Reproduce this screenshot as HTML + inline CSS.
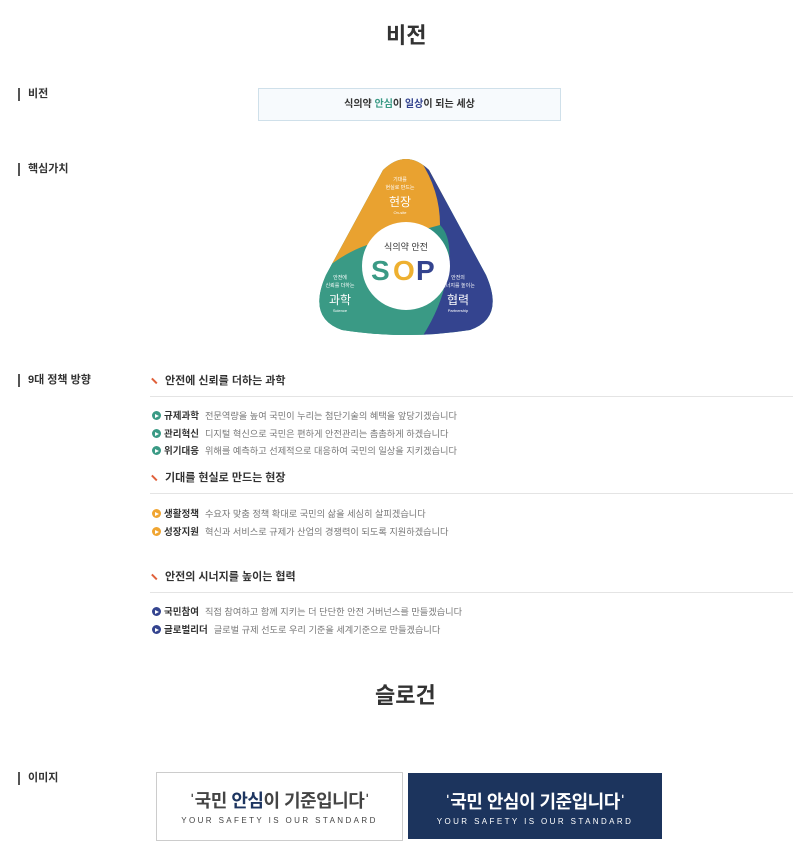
<!DOCTYPE html>
<html><head><meta charset="utf-8"><style>
body{margin:0;width:800px;height:858px;background:#fff;font-family:"Liberation Sans","Noto Sans CJK KR",sans-serif;color:#333;position:relative;overflow:hidden}
.a{position:absolute;white-space:nowrap}
.h1{font-size:22px;font-weight:bold;color:#333}
.lbl{font-size:11px;font-weight:bold;color:#333;border-left:2px solid #555;padding-left:8px;line-height:13px}
.sec{font-size:11px;font-weight:bold;color:#333}
.sec:before{content:"";display:inline-block;width:7px;height:1.5px;background:#e0603a;transform:rotate(45deg);margin-right:7px;vertical-align:middle}
.line{position:absolute;left:150px;width:643px;height:1px;background:#e4e4e4}
.it{font-size:9.2px;color:#777}
.it b{color:#333;font-size:9.5px;margin-right:6px}
.dot{display:inline-block;width:9px;height:9px;border-radius:50%;margin-right:3px;vertical-align:-1px;position:relative}
.dot:after{content:"";position:absolute;left:3px;top:2.5px;border-left:4px solid #fff;border-top:2px solid transparent;border-bottom:2px solid transparent}
.g{background:#3a9a85}.o{background:#f0a531}.n{background:#34448f}
</style></head><body>
<div class="a h1" style="left:386px;top:18px">비전</div>
<div class="a lbl" style="left:18px;top:88px">비전</div>
<div class="a" style="left:258px;top:88px;width:301px;height:31px;border:1px solid #cfe0ea;background:#f7fafd;text-align:center;line-height:31px;font-size:10px;font-weight:bold;color:#333">식의약 <span style="color:#3a9a85">안심</span>이 <span style="color:#34448f">일상</span>이 되는 세상</div>
<div class="a lbl" style="left:18px;top:163px">핵심가치</div>
<svg class="a" style="left:300px;top:150px" width="200" height="190" viewBox="300 150 200 190">
<defs><clipPath id="c"><path d="M383,170 Q406,148 429,170 L486,275 Q505,318 470,330 Q406,340 342,330 Q307,318 326,275 Z"/></clipPath></defs>
<g clip-path="url(#c)">
<rect x="300" y="150" width="200" height="190" fill="#2f8f80"/>
<path d="M300,150 L500,150 L500,160 Q440,180 440,225 Q420,230 396,240 Q350,240 300,292 Z" fill="#e9a230"/>
<path d="M500,150 L500,340 L420,340 Q440,310 446,280 Q455,240 440,225 Q440,190 420,160 Z" fill="#34448f"/>
<path d="M300,292 Q350,240 396,240 Q440,250 446,280 Q440,310 420,340 L300,340 Z" fill="#3a9a85"/>
</g>
<circle cx="406" cy="266" r="44" fill="#fff"/>
<text x="406" y="250" font-size="9" text-anchor="middle" fill="#333">식의약 안전</text>
<text x="371" y="280" font-size="28" font-weight="bold" fill="#3a9a85">S</text>
<text x="393" y="280" font-size="28" font-weight="bold" fill="#eeb030">O</text>
<text x="416" y="280" font-size="28" font-weight="bold" fill="#34448f">P</text>
<g fill="#fff" text-anchor="middle">
<text x="400" y="181" font-size="5">기대를</text><text x="400" y="189" font-size="5">현실로 만드는</text>
<text x="400" y="206" font-size="12">현장</text><text x="400" y="214" font-size="4">On-site</text>
<text x="340" y="279" font-size="5">안전에</text><text x="340" y="287" font-size="5">신뢰를 더하는</text>
<text x="340" y="304" font-size="12">과학</text><text x="340" y="312" font-size="4">Science</text>
<text x="458" y="279" font-size="5">안전의</text><text x="458" y="287" font-size="5">시너지를 높이는</text>
<text x="458" y="304" font-size="12">협력</text><text x="458" y="312" font-size="4">Partnership</text>
</g></svg>
<div class="a lbl" style="left:18px;top:374px">9대 정책 방향</div>
<div class="a sec" style="left:151px;top:372px">안전에 신뢰를 더하는 과학</div>
<div class="line" style="top:396px"></div>
<div class="a it" style="left:152px;top:408px"><span class="dot g"></span><b>규제과학</b>전문역량을 높여 국민이 누리는 첨단기술의 혜택을 앞당기겠습니다</div>
<div class="a it" style="left:152px;top:426px"><span class="dot g"></span><b>관리혁신</b>디지털 혁신으로 국민은 편하게 안전관리는 촘촘하게 하겠습니다</div>
<div class="a it" style="left:152px;top:443px"><span class="dot g"></span><b>위기대응</b>위해를 예측하고 선제적으로 대응하여 국민의 일상을 지키겠습니다</div>
<div class="a sec" style="left:151px;top:469px">기대를 현실로 만드는 현장</div>
<div class="line" style="top:493px"></div>
<div class="a it" style="left:152px;top:506px"><span class="dot o"></span><b>생활정책</b>수요자 맞춤 정책 확대로 국민의 삶을 세심히 살피겠습니다</div>
<div class="a it" style="left:152px;top:524px"><span class="dot o"></span><b>성장지원</b>혁신과 서비스로 규제가 산업의 경쟁력이 되도록 지원하겠습니다</div>
<div class="a sec" style="left:151px;top:568px">안전의 시너지를 높이는 협력</div>
<div class="line" style="top:592px"></div>
<div class="a it" style="left:152px;top:604px"><span class="dot n"></span><b>국민참여</b>직접 참여하고 함께 지키는 더 단단한 안전 거버넌스를 만들겠습니다</div>
<div class="a it" style="left:152px;top:622px"><span class="dot n"></span><b>글로벌리더</b>글로벌 규제 선도로 우리 기준을 세계기준으로 만들겠습니다</div>
<div class="a h1" style="left:375px;top:678px">슬로건</div>
<div class="a lbl" style="left:18px;top:772px">이미지</div>
<div class="a" style="left:156px;top:772px;width:245px;height:67px;border:1px solid #ccc;background:#fff;text-align:center">
<div style="margin-top:14px;font-size:18px;font-weight:bold;color:#444;letter-spacing:-0.5px">ˈ국민 <span style="color:#1d3560">안심</span>이 기준입니다ˈ</div>
<div style="margin-top:3px;font-size:8px;letter-spacing:2.4px;color:#444">YOUR SAFETY IS OUR STANDARD</div></div>
<div class="a" style="left:408px;top:773px;width:254px;height:66px;background:#1c345d;text-align:center;color:#fff">
<div style="margin-top:15px;font-size:18px;font-weight:bold;letter-spacing:-0.5px">ˈ국민 안심이 기준입니다ˈ</div>
<div style="margin-top:3px;font-size:8px;letter-spacing:2.4px">YOUR SAFETY IS OUR STANDARD</div></div>
</body></html>
